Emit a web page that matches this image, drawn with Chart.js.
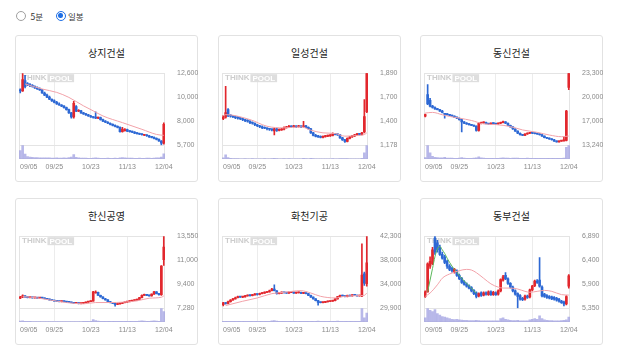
<!DOCTYPE html>
<html><head><meta charset="utf-8">
<script src="https://cdn.jsdelivr.net/npm/chart.js@4.4.0/dist/chart.umd.min.js"></script>
<style>
html,body{margin:0;padding:0;background:#fff;}
body{width:618px;height:355px;position:relative;overflow:hidden;font-family:"Noto Sans CJK KR","Noto Sans",sans-serif;}
.radio{position:absolute;width:10px;height:10px;box-sizing:border-box;border:1px solid #a0a0a0;border-radius:50%;background:#fff;}
.radio.on{border:1.4px solid #1f6fe5;}
.radio.on i{position:absolute;left:1.4px;top:1.4px;width:4.4px;height:4.4px;border-radius:50%;background:#1f6fe5;}
.rt{position:absolute;top:10px;font-size:8.5px;line-height:12px;color:#333;}
.card{position:absolute;width:183px;height:147px;box-sizing:border-box;border:1px solid #e2e2e2;border-radius:3px;background:#fff;}
.card .title{position:absolute;left:0;right:0;top:10px;height:14px;line-height:14px;text-align:center;font-size:10px;color:#222;}
.card canvas{position:absolute;left:-1px;top:29px;}
</style></head>
<body>
<div class="radio" style="left:15.5px;top:11px"></div><span class="rt" style="left:30.5px">5분</span>
<div class="radio on" style="left:56px;top:11px"><i></i></div><span class="rt" style="left:68px">일봉</span>
<div id="grid"></div>
<script>
const dates = ['09/05','09/06','09/07','09/08','09/11','09/12','09/13','09/14','09/15','09/18','09/19','09/20','09/21','09/22','09/25','09/26','09/27','10/04','10/05','10/06','10/10','10/11','10/12','10/13','10/16','10/17','10/18','10/19','10/20','10/23','10/24','10/25','10/26','10/27','10/30','10/31','11/01','11/02','11/03','11/06','11/07','11/08','11/09','11/10','11/13','11/14','11/15','11/16','11/17','11/20','11/21','11/22','11/23','11/24','11/27','11/28','11/29','11/30','12/01','12/04'];
const tickLabels = ['09/05','09/25','10/23','11/13','12/04'];
const titles = ['상지건설','일성건설','동신건설','한신공영','화천기공','동부건설'];

// 상지건설
const p1Open  = [11000,10900,11900,11600,11500,11400,11350,11200,11100,11000,10700,10500,10300,10100,9950,9800,9650,9550,9450,9300,9100,8800,8400,9400,8950,9000,8800,8700,8600,8500,8400,8350,8300,8350,8150,8000,7900,7800,7700,7600,7500,7400,7000,7100,7200,7050,7000,6950,6850,6800,6750,6650,6700,6600,6500,6450,6350,6250,6100,5900];
const p1High  = [11100,12600,12400,11700,11600,11500,11400,11300,11200,11050,10800,10600,10400,10150,10050,9900,9750,9600,9500,9350,9150,8850,9900,9500,9100,9050,8850,8750,8650,8550,8450,8900,8400,8400,8200,8050,7950,7850,7750,7650,7550,7450,7400,7300,7250,7100,7050,7000,6900,6850,6800,6750,6720,6650,6550,6500,6400,6300,6150,7850];
const p1Low   = [10700,10850,11200,11400,11300,11250,11150,11050,10950,10650,10450,10250,10050,9900,9750,9600,9500,9400,9250,9050,8750,8300,8300,8900,8900,8750,8650,8550,8450,8350,8300,8250,8250,8100,7950,7850,7750,7650,7550,7450,7350,6950,6950,7050,7000,6950,6900,6800,6750,6700,6650,6600,6550,6450,6400,6300,6200,6050,5700,5800];
const p1Close = [10900,12000,11300,11500,11400,11350,11200,11100,11000,10700,10500,10300,10100,9950,9800,9650,9550,9450,9300,9100,8800,8400,9700,8950,9000,8800,8700,8600,8500,8400,8350,8300,8350,8150,8000,7900,7800,7700,7600,7500,7400,7000,7250,7200,7050,7000,6950,6850,6800,6750,6700,6700,6600,6500,6450,6350,6250,6100,5900,7700];
const p1Vol   = [60,100,35,18,14,12,10,10,8,8,9,8,8,7,6,8,6,6,8,6,10,14,32,12,8,6,6,6,5,5,6,9,6,5,5,5,6,5,5,6,5,8,10,8,6,6,6,5,5,6,5,5,6,6,5,6,8,9,14,38];
const p1Ma20  = [[2,11570],[9,11085],[15,10760],[20,10280],[26,9470],[30,8990],[34,8500],[42,7860],[50,7220],[56,6730],[59,6640]];

// 일성건설
const p2Open  = [1440,1455,1530,1470,1465,1460,1450,1445,1440,1430,1420,1415,1400,1395,1380,1370,1360,1350,1345,1340,1335,1320,1340,1325,1330,1335,1350,1355,1365,1360,1365,1360,1365,1360,1370,1355,1340,1300,1275,1265,1260,1255,1262,1268,1270,1275,1290,1285,1280,1250,1230,1215,1245,1260,1270,1280,1290,1285,1310,1510];
const p2High  = [1470,1760,1540,1480,1470,1465,1460,1450,1445,1435,1430,1420,1410,1400,1385,1375,1370,1360,1350,1345,1340,1345,1345,1340,1345,1360,1365,1375,1370,1375,1370,1375,1370,1414,1375,1360,1345,1305,1285,1275,1270,1270,1275,1278,1282,1300,1295,1290,1285,1255,1235,1250,1265,1275,1285,1295,1295,1305,1630,1890];
const p2Low   = [1430,1445,1460,1455,1450,1440,1435,1430,1420,1410,1405,1390,1385,1370,1360,1350,1340,1340,1330,1325,1320,1280,1315,1320,1325,1330,1345,1350,1350,1355,1350,1355,1350,1355,1350,1335,1295,1270,1260,1255,1250,1250,1258,1262,1265,1270,1280,1275,1245,1225,1205,1210,1240,1255,1262,1272,1278,1280,1300,1500];
const p2Close = [1455,1500,1470,1465,1460,1450,1445,1440,1430,1420,1415,1400,1395,1380,1370,1360,1350,1345,1340,1335,1330,1340,1325,1330,1335,1350,1355,1365,1360,1365,1360,1365,1360,1370,1355,1340,1300,1275,1265,1260,1255,1262,1268,1270,1275,1290,1285,1280,1250,1230,1215,1245,1260,1270,1280,1290,1285,1300,1460,1890];
const p2Vol   = [8,30,10,4,3,3,3,2,2,3,2,2,3,2,2,2,2,3,2,2,3,5,3,2,2,3,2,3,2,2,2,2,2,5,3,2,4,3,2,2,2,2,2,2,2,3,2,2,3,3,3,3,2,2,2,2,2,4,45,100];
const p2Ma20  = [[0,1470],[1,1480],[11,1431],[18,1365],[25,1349],[32,1359],[36,1326],[41,1300],[46,1293],[50,1267],[55,1273],[58,1283],[59,1300]];

// 동신건설
const p3Open  = [17300,20300,19500,18700,18500,18300,18200,18000,17600,17550,17500,17400,17300,17150,17000,16800,16500,16300,16200,16100,16000,15900,15300,16300,16350,16400,16250,16200,16300,16250,16200,16300,16400,16500,16300,16000,15800,15500,15200,14900,14700,14600,14800,14900,14950,14900,14850,14800,14700,14500,14300,14200,14100,14000,13800,13700,13800,13850,13900,21300];
const p3High  = [17600,21700,19800,18800,18600,18400,18250,18100,17650,17650,17550,17450,17350,17200,17050,16850,16550,16400,16250,16150,16050,15950,16400,16450,16500,16450,16300,16350,16350,16300,16350,16450,16600,16550,16350,16050,15850,15550,15250,14950,14750,14850,14950,15000,15000,14950,14900,14850,14750,14550,14350,14250,14150,14050,13850,13850,13900,14400,18100,23300];
const p3Low   = [17200,18900,18600,18400,18250,18150,17950,17750,17000,17450,17350,17250,17100,16950,16750,15100,16250,16150,16050,15950,15850,15200,15200,16200,16300,16200,16150,16150,16200,16150,16150,16250,16350,16250,15950,15750,15450,15150,14850,14650,14550,14550,14750,14850,14850,14800,14750,14650,14450,14250,14150,14050,13950,13750,13650,13650,13750,13800,13850,21000];
const p3Close = [17500,19000,18700,18500,18300,18200,18000,17800,17550,17500,17400,17300,17150,17000,16800,16500,16300,16200,16100,16000,15900,15300,16300,16350,16400,16250,16200,16300,16250,16200,16300,16400,16500,16300,16000,15800,15500,15200,14900,14700,14600,14800,14900,14950,14900,14850,14800,14700,14500,14300,14200,14100,14000,13800,13700,13800,13850,13900,18000,23300];
const p3Vol   = [10,100,45,20,12,10,8,8,12,7,6,6,5,5,6,10,6,5,5,5,6,8,15,8,6,5,5,5,5,5,5,6,8,6,6,5,6,6,6,5,5,5,6,5,5,5,5,5,5,5,5,5,5,5,4,4,4,6,85,100];
const p3Ma20  = [[0,17727],[3,17820],[7,17490],[10,17255],[14,17020],[19,16690],[24,16215],[29,16120],[35,15840],[40,15370],[46,15035],[51,14660],[56,14420],[59,14515]];

// 한신공영
const p4Open  = [8150,8250,8350,8250,8200,8220,8180,8200,8150,8170,8150,8100,8050,8000,7950,7900,7880,7850,7870,7850,7800,7780,7750,7700,7720,7680,7700,7750,7800,7850,7900,8600,8650,8400,8250,8100,8000,7850,7750,7700,7600,7650,7700,7750,7800,7850,7900,7950,7980,8050,8200,8400,8450,8400,8350,8500,8700,8550,8450,11500];
const p4High  = [8300,8450,8380,8280,8260,8240,8230,8220,8200,8190,8170,8120,8070,8020,7980,7930,7900,7890,7890,7870,7830,7800,7780,7740,7740,7720,7770,7820,7870,7920,8750,8800,8680,8420,8280,8130,8020,7880,7780,7720,7680,7720,7770,7820,7870,7920,7970,8000,8070,8230,8450,8500,8470,8420,8530,8750,8720,8570,10980,13550];
const p4Low   = [8100,8200,8220,8170,8180,8150,8160,8120,8130,8120,8080,8030,7980,7930,7880,7860,7830,7830,7820,7780,7760,7730,7680,7680,7650,7660,7690,7740,7790,7840,7880,8580,8380,8230,8080,7980,7830,7730,7680,7450,7580,7630,7680,7730,7780,7830,7880,7930,7960,8030,8180,8380,8370,8320,8330,8480,8520,8420,8400,11000];
const p4Close = [8250,8350,8250,8200,8220,8180,8200,8150,8170,8150,8100,8050,8000,7950,7900,7880,7850,7870,7850,7800,7780,7750,7700,7720,7680,7700,7750,7800,7850,7900,8700,8680,8400,8250,8100,8000,7850,7750,7700,7600,7650,7700,7750,7800,7850,7900,7950,7980,8050,8200,8400,8450,8400,8350,8500,8700,8550,8450,10950,12600];
const p4Vol   = [6,8,5,4,4,3,3,3,3,3,3,3,3,3,3,3,3,3,3,3,3,3,3,3,3,3,4,4,4,5,18,10,6,5,4,4,4,4,4,5,4,4,4,4,4,4,4,4,4,6,8,6,5,5,6,8,6,5,100,75];
const p4Ma20  = [[1,8290],[6,8200],[12,8000],[19,7770],[26,7655],[31,7770],[37,7770],[42,7800],[48,7915],[53,8145],[58,8230],[59,8350]];

// 화천기공
const p5Open  = [30500,30800,30700,31000,31300,31500,31700,31900,31800,31850,32000,32100,32050,32200,32300,32250,32400,32500,32600,32700,32900,33200,32900,32400,32500,32600,32550,32500,32600,32650,32500,32550,32600,32450,32500,32400,32100,31800,31500,31200,30900,30850,30900,31000,31050,31100,31200,31500,31900,32100,32000,31900,32100,32000,32200,32100,32000,32000,35800,34100];
const p5High  = [30900,30850,31100,31400,31600,31800,32000,31950,31900,32100,32200,32150,32300,32400,32350,32500,32600,32700,32800,33000,33300,33900,32950,32600,32700,32650,32600,32700,32750,32700,32650,32700,32650,32600,32550,32450,32150,31850,31550,31250,30950,30950,31050,31100,31150,31250,31550,31950,32150,32150,32050,32150,32150,32250,32250,32150,32150,41000,36100,42300];
const p5Low   = [30300,30600,30650,30950,31250,31450,31650,31750,31700,31800,31950,31950,32000,32150,32150,32200,32350,32450,32550,32650,32850,32850,32300,32350,32450,32500,32450,32450,32550,32450,32450,32500,32400,32400,32350,32050,31750,31450,31150,30400,30800,30800,30850,30950,31000,31050,31150,31450,31850,31950,31850,31850,31950,31950,32050,31950,31950,31900,33800,33700];
const p5Close = [30800,30700,31000,31300,31500,31700,31900,31800,31850,32000,32100,32050,32200,32300,32250,32400,32500,32600,32700,32900,33200,32900,32400,32500,32600,32550,32500,32600,32650,32500,32550,32600,32450,32500,32400,32100,31800,31500,31200,30900,30850,30900,31000,31050,31100,31200,31500,31900,32100,32000,31900,32100,32000,32200,32100,32000,32100,35600,34200,37700];
const p5Vol   = [5,4,5,5,5,4,5,4,4,4,4,4,4,4,4,4,4,4,4,5,8,10,6,4,4,4,4,4,4,4,4,4,4,4,4,5,5,5,5,6,4,4,4,4,4,4,5,6,5,4,4,4,4,4,4,4,4,100,30,65];
const p5Ma20  = [[1,30350],[8,31090],[14,31660],[20,32400],[25,32630],[32,32910],[36,32510],[40,31940],[46,31660],[50,31940],[55,32060],[58,32110],[59,32510]];

// 동부건설
const p6Open  = [5600,5700,6250,6300,6850,6750,6650,6500,6450,6350,6250,6200,6120,6150,6050,5990,5920,5870,5830,5790,5730,5680,5610,5680,5630,5680,5640,5700,5640,5680,5650,5720,5950,6050,5980,5880,5800,5720,5660,5620,5560,5540,5610,5590,5740,5830,5930,5950,5800,5650,5620,5600,5590,5580,5560,5540,5500,5480,5440,5820];
const p6High  = [5720,6320,6450,6650,6890,6800,6700,6550,6480,6380,6280,6230,6200,6170,6080,6010,5940,5890,5850,5810,5750,5700,5680,5700,5700,5700,5720,5720,5710,5700,5740,5980,6050,6110,6000,5900,5820,5740,5680,5640,5580,5630,5630,5760,5840,5950,5960,6430,5830,5670,5640,5620,5610,5600,5580,5560,5520,5500,5620,6070];
const p6Low   = [5580,5690,6200,6280,6500,6550,6480,6400,6300,6200,6150,6120,6100,6030,5960,5880,5840,5800,5760,5700,5640,5570,5590,5600,5610,5630,5620,5620,5620,5620,5630,5700,5930,5960,5860,5780,5700,5630,5350,5520,5510,5520,5560,5570,5720,5810,5880,5800,5590,5580,5560,5550,5530,5520,5500,5480,5450,5400,5420,5780];
const p6Close = [5700,6300,6350,6600,6550,6600,6500,6420,6330,6250,6180,6150,6180,6050,5980,5900,5860,5820,5780,5720,5660,5600,5660,5620,5680,5650,5700,5640,5690,5640,5720,5960,6020,5980,5880,5800,5720,5650,5600,5540,5530,5610,5580,5740,5820,5930,5900,5820,5610,5600,5580,5570,5550,5540,5520,5500,5470,5440,5600,6040];
const p6Vol   = [30,100,85,75,90,60,50,40,35,30,25,20,18,20,15,14,12,12,10,10,10,12,10,8,8,8,8,8,8,8,9,25,30,20,15,12,10,10,12,9,8,9,8,15,20,25,20,45,25,15,12,10,10,9,9,9,10,12,15,35];
const p6Ma20  = [[0,5603],[2,5674],[5,5850],[7,5990],[10,6081],[14,6152],[17,6180],[19,6166],[21,6110],[24,5990],[27,5870],[30,5800],[32,5780],[35,5780],[38,5760],[41,5710],[43,5690],[46,5710],[49,5730],[52,5710],[56,5640],[59,5630]];
const p6Ma5   = [[1,5700],[2,5950],[3,6200],[4,6450],[5,6620],[6,6670],[7,6600],[8,6520],[9,6420],[10,6330],[11,6250],[12,6180],[13,6120],[14,6050],[15,5990],[16,5930],[17,5880],[18,5830],[19,5780],[20,5720],[21,5670]];

const yMin = [5700,1178,13240,7280,29900,5350];
const yMax = [12600,1890,23300,13550,42300,6890];
const yTickLabels = [
  ['12,600','10,000','8,000','5,700'],
  ['1,890','1,700','1,400','1,178'],
  ['23,300','20,000','17,000','13,240'],
  ['13,550','11,000','9,400','7,280'],
  ['42,300','38,000','34,000','29,900'],
  ['6,890','6,400','5,900','5,350']
];

const UP = '#e2272d', DOWN = '#2d68d4', VOLC = 'rgba(160,160,225,0.75)';
const MA20C = '#f2a2a9', MA5C = '#5cb85c';

const panels = [
  {open:p1Open,high:p1High,low:p1Low,close:p1Close,vol:p1Vol,ma:[{pts:p1Ma20,c:MA20C}]},
  {open:p2Open,high:p2High,low:p2Low,close:p2Close,vol:p2Vol,ma:[{pts:p2Ma20,c:MA20C}]},
  {open:p3Open,high:p3High,low:p3Low,close:p3Close,vol:p3Vol,ma:[{pts:p3Ma20,c:MA20C}]},
  {open:p4Open,high:p4High,low:p4Low,close:p4Close,vol:p4Vol,ma:[{pts:p4Ma20,c:MA20C}]},
  {open:p5Open,high:p5High,low:p5Low,close:p5Close,vol:p5Vol,ma:[{pts:p5Ma20,c:MA20C}]},
  {open:p6Open,high:p6High,low:p6Low,close:p6Close,vol:p6Vol,ma:[{pts:p6Ma20,c:MA20C},{pts:p6Ma5,c:MA5C}]}
];

const cardLeft = [15,218,420], cardTop = [35,198];
Chart.defaults.font.family = '"Liberation Sans", Arial, sans-serif';

const decor = {
  id:'decor',
  beforeDatasetsDraw(chart){
    const {ctx, chartArea:a} = chart;
    ctx.save();
    ctx.strokeStyle = '#e4e4e4'; ctx.lineWidth = 1;
    const l = Math.round(a.left)+0.5, t = Math.round(a.top)+0.5, r = Math.round(a.right)-0.5, b = Math.round(a.bottom)-0.5;
    ctx.strokeRect(l, t, r-l, b-t);
    const sy = Math.round(chart.scales.y.bottom)+0.5;
    ctx.beginPath(); ctx.moveTo(l, sy); ctx.lineTo(r, sy); ctx.stroke();
    // watermark
    ctx.font = 'bold 8px "Liberation Sans", Arial, sans-serif';
    ctx.textBaseline = 'middle'; ctx.textAlign = 'left';
    const x0 = a.left + 3, yc = a.top + 5;
    const w1 = ctx.measureText('THINK').width, w2 = ctx.measureText('POOL').width;
    ctx.fillStyle = '#cdcdcd'; ctx.fillText('THINK', x0, yc);
    ctx.fillStyle = '#dedede'; ctx.fillRect(x0 + w1 + 1, yc - 4, w2 + 4, 8);
    ctx.fillStyle = '#ffffff'; ctx.fillText('POOL', x0 + w1 + 3, yc + 0.5);
    ctx.restore();
  },
  afterDraw(chart){
    const {ctx, chartArea:a, scales:{x}} = chart;
    ctx.save();
    ctx.font = '7px "Liberation Sans", Arial, sans-serif';
    ctx.fillStyle = '#8a8a8a'; ctx.textBaseline = 'middle'; ctx.textAlign = 'center';
    tickLabels.forEach(lab => {
      const i = dates.indexOf(lab);
      const w = ctx.measureText(lab).width;
      let px = x.getPixelForValue(i);
      px = Math.max(px, a.left + w/2 + 1);
      ctx.fillText(lab, px, a.bottom + 8);
    });
    ctx.restore();
  }
};

const grid = document.getElementById('grid');
panels.forEach((p, k) => {
  const card = document.createElement('div');
  card.className = 'card';
  card.style.left = cardLeft[k % 3] + 'px';
  card.style.top = cardTop[Math.floor(k / 3)] + 'px';
  const tt = document.createElement('div'); tt.className = 'title'; tt.textContent = titles[k];
  const cv = document.createElement('canvas'); cv.width = 183; cv.height = 115;
  card.appendChild(tt); card.appendChild(cv); grid.appendChild(card);

  const colors = p.close.map((c, i) => c >= p.open[i] ? UP : DOWN);
  const body = p.open.map((o, i) => [o, p.close[i]]);
  const wick = p.high.map((h, i) => [p.low[i], h]);
  const midTicks = tickLabels.slice(1, -1);
  const labs = yTickLabels[k];

  new Chart(cv, {
    type: 'bar',
    data: {
      labels: dates,
      datasets: [
        ...p.ma.map(m => ({type:'line', data: m.pts.map(([i, v]) => ({x: dates[i], y: v})), borderColor: m.c, borderWidth: 1, pointRadius: 0, cubicInterpolationMode: 'monotone', yAxisID: 'y', order: 0})),
        {data: body, backgroundColor: colors, barThickness: 2, minBarLength: 1, grouped: false, yAxisID: 'y', order: 1},
        {data: wick, backgroundColor: colors, barThickness: 1, grouped: false, yAxisID: 'y', order: 2},
        {data: p.vol, backgroundColor: VOLC, barThickness: 2, grouped: false, yAxisID: 'v', order: 3}
      ]
    },
    options: {
      responsive: false, animation: false, devicePixelRatio: 1,
      layout: {padding: {left: 4, top: 7, right: 0, bottom: 21}},
      plugins: {legend: {display: false}, tooltip: {enabled: false}},
      scales: {
        x: {offset: true, border: {display: false}, ticks: {display: false},
            grid: {offset: false, drawTicks: false, color: c => (c.tick && midTicks.includes(dates[c.tick.value])) ? '#ececec' : 'rgba(0,0,0,0)'},
            afterFit(s){ s.height = 0; }},
        y: {position: 'right', stack: 'p', stackWeight: 5.2, min: yMin[k], max: yMax[k],
            border: {display: false}, grid: {display: false},
            afterBuildTicks(s){ const d = (s.max - s.min) / 3; s.ticks = [0,1,2,3].map(j => ({value: s.min + d * j})); },
            ticks: {autoSkip: false, padding: 4, font: {size: 7}, color: '#8a8a8a', callback: (v, idx) => labs[3 - idx]},
            afterFit(s){ s.width = 33; }},
        v: {position: 'right', stack: 'p', stackWeight: 1, min: 0, max: 100,
            border: {display: false}, grid: {display: false}, ticks: {display: false},
            afterFit(s){ s.width = 33; }}
      }
    },
    plugins: [decor]
  });
});
</script>
</body></html>
